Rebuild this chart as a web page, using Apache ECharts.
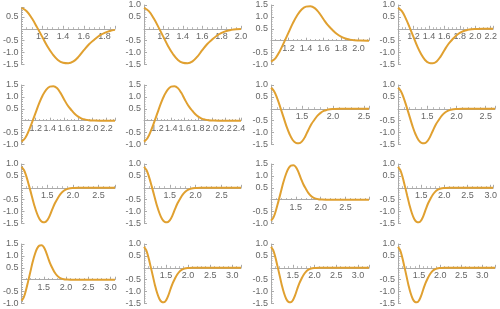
<!DOCTYPE html>
<html><head><meta charset="utf-8">
<script src="https://cdn.jsdelivr.net/npm/echarts@6/dist/echarts.min.js"></script>
<style>html,body{margin:0;padding:0;background:#fff}#c{width:500px;height:309px}</style>
</head><body><div id="c"></div>
<script>
// base curve (x, y)
const xs = [1.00,1.05,1.10,1.15,1.20,1.25,1.30,1.35,1.40,1.45,1.50,1.55,1.60,1.65,1.70,1.75,1.80,1.85,1.90,1.95,2.00,2.10,2.20,2.30,2.40,2.50,2.60,2.70,2.80,2.90,3.00,3.10,3.20,3.30];
const ys = [0.88,0.74,0.44,0.06,-0.34,-0.74,-1.07,-1.31,-1.43,-1.45,-1.37,-1.17,-0.90,-0.65,-0.46,-0.29,-0.17,-0.09,-0.045,-0.02,-0.01,0,0,0,0,0,0,0,0,0,0,0,0,0];
// per panel: orientation of the curve and x-range end
const signs = [1,1,-1,1,-1,-1,1,1,1,1,-1,1,-1,1,1,1];
const xMaxs = [1.9,2.0,2.12,2.23,2.32,2.43,2.58,2.66,2.82,2.88,2.97,3.05,3.1,3.2,3.25,3.3];
const yTops = [0.9,1.0,1.5,1.0,1.5,1.5,1.0,1.0,1.0,1.0,1.5,1.0,1.5,1.0,1.0,1.0];
const yBottoms = [-1.5,-1.5,-1.0,-1.5,-1.0,-1.0,-1.5,-1.5,-1.5,-1.5,-1.0,-1.5,-1.0,-1.5,-1.5,-1.5];
const xSteps = [0.2,0.2,0.2,0.2,0.2,0.2,0.5,0.5,0.5,0.5,0.5,0.5,0.5,0.5,0.5,0.5];

const chart = echarts.init(document.getElementById('c'), null, {renderer:'canvas'});
const colLeft = [16,144,271,398];
const colRight = [115,241,369,495];
const rowTop = [0,80,159,239];
const k = 23.8;
const axisCol = '#aaaaaa', labCol = '#666666';
const grids=[], xAxes=[], yAxes=[], series=[];
function fmt(step){return function(v){const q=v/step;if(Math.abs(q-Math.round(q))>1e-6)return '';if(Math.abs(v)<1e-9)return '';if(Math.abs(v-1)<1e-9)return '';return v.toFixed(1);};}
for(let i=0;i<16;i++){
  const r=Math.floor(i/4), c=i%4;
  const refTop = signs[i]>0?1.0:1.5;
  const top = rowTop[r]+5+(refTop-yTops[i])*k;
  const h = (yTops[i]-yBottoms[i])*k;
  grids.push({left:colLeft[c], top:top, width:colRight[c]-colLeft[c], height:h, containLabel:false});
  const xs2 = xSteps[i];
  xAxes.push({type:'value', gridIndex:i, min:1, max:xMaxs[i], interval:xs2, position:'bottom',
    offset: yBottoms[i]*k,
    axisLine:{onZero:false, lineStyle:{color:axisCol,width:1}},
    axisTick:{show:true, inside:true, length:3, lineStyle:{color:axisCol}},
    minorTick:{show:true, splitNumber: xs2===0.2?4:5, length:1.5, lineStyle:{color:axisCol}},
    splitLine:{show:false},
    axisLabel:{color:labCol, fontSize:9, fontFamily:'Liberation Sans', margin:3, formatter:fmt(xs2), hideOverlap:false}
  });
  yAxes.push({type:'value', gridIndex:i, min:yBottoms[i], max:yTops[i], interval:0.5,
    axisLine:{show:true, onZero:false, lineStyle:{color:axisCol,width:1}},
    axisTick:{show:true, inside:true, length:3, lineStyle:{color:axisCol}},
    minorTick:{show:true, splitNumber:5, length:1.5, lineStyle:{color:axisCol}},
    splitLine:{show:false},
    axisLabel:{color:labCol, fontSize:9, fontFamily:'Liberation Sans', margin:3, hideOverlap:false,
      formatter:function(v){const q=v/0.5;if(Math.abs(q-Math.round(q))>1e-6||Math.abs(v)<1e-9)return '';return v.toFixed(1);}}
  });
  const pts=[];
  for(let j=0;j<xs.length;j++){ if(xs[j]<=xMaxs[i]+1e-9) pts.push([xs[j], signs[i]*ys[j]]); }
  if(pts[pts.length-1][0]<xMaxs[i]) pts.push([xMaxs[i], 0]);
  series.push({type:'line', xAxisIndex:i, yAxisIndex:i, data:pts, smooth:0.4, showSymbol:false, symbol:'none',
    lineStyle:{color:'#E0A030', width:2}, animation:false, clip:false});
}
chart.setOption({animation:false, grid:grids, xAxis:xAxes, yAxis:yAxes, series:series});
</script></body></html>
